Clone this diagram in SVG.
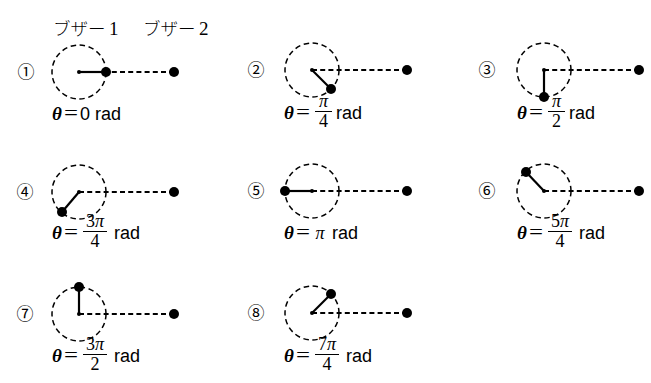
<svg xmlns="http://www.w3.org/2000/svg" width="651" height="383" viewBox="0 0 651 383">
<defs>
<style>
.circ{fill:none;stroke:#000;stroke-width:1.5;stroke-dasharray:5.5 3.6}
.dash{stroke:#000;stroke-width:1.8;stroke-dasharray:5 3.2;fill:none}
.arm{stroke:#000;stroke-width:2.2;fill:none}
.big{fill:#000}
.ctr{fill:#000}
.num{font-family:"Liberation Serif","DejaVu Serif","Noto Sans CJK JP",serif;font-size:17px;text-anchor:middle}
.th{font-family:"Liberation Serif",serif;font-style:italic;font-weight:bold;font-size:19px}
.eq{font-family:"Liberation Serif",serif;font-size:20px}
.sans{font-family:"Liberation Sans",Arial,sans-serif;font-size:18px}
.fr{font-family:"Liberation Serif",serif;font-size:18px;text-anchor:middle}
.pi{font-style:italic}
.fl{stroke:#000;stroke-width:1}
.kana{font-family:"Noto Sans CJK JP",sans-serif;font-size:17.5px;font-weight:300}
.dig{font-family:"Liberation Serif",serif;font-size:19px}
</style>
</defs>

<g id="header">
<text class="kana" x="53" y="35">ブザー<tspan class="dig" x="109">1</tspan></text>
<text class="kana" x="143" y="35">ブザー<tspan class="dig" x="199">2</tspan></text>
</g>

<g id="panel1">
<text class="num" x="26" y="78">①</text>
<circle class="circ" cx="79" cy="72" r="27"/>
<line class="dash" x1="79" y1="72" x2="174" y2="72"/>
<line class="arm" x1="79" y1="72" x2="106" y2="72"/>
<circle class="ctr" cx="79" cy="72" r="2"/>
<circle class="big" cx="106" cy="72" r="5"/>
<circle class="big" cx="174" cy="72" r="5"/>
<text y="120"><tspan class="th" x="52">θ</tspan><tspan class="eq" x="64" textLength="14" lengthAdjust="spacingAndGlyphs">=</tspan><tspan class="sans" x="80">0</tspan><tspan class="sans" x="95">rad</tspan></text>
</g>

<g id="panel2">
<text class="num" x="256" y="76">②</text>
<circle class="circ" cx="312" cy="70" r="27"/>
<line class="dash" x1="312" y1="70" x2="407" y2="70"/>
<line class="arm" x1="312" y1="70" x2="331" y2="89"/>
<circle class="ctr" cx="312" cy="70" r="2"/>
<circle class="big" cx="331" cy="89" r="5"/>
<circle class="big" cx="407" cy="70" r="5"/>
<text y="119"><tspan class="th" x="284">θ</tspan><tspan class="eq" x="296" textLength="14" lengthAdjust="spacingAndGlyphs">=</tspan><tspan class="sans" x="336">rad</tspan></text>
<line class="fl" x1="315" y1="111.5" x2="332" y2="111.5"/>
<text class="fr pi" x="323.5" y="107">π</text>
<text class="fr" x="323.5" y="127">4</text>
</g>

<g id="panel3">
<text class="num" x="487" y="76">③</text>
<circle class="circ" cx="544" cy="70" r="27"/>
<line class="dash" x1="544" y1="70" x2="639" y2="70"/>
<line class="arm" x1="544" y1="70" x2="544" y2="97"/>
<circle class="ctr" cx="544" cy="70" r="2"/>
<circle class="big" cx="544" cy="97" r="5"/>
<circle class="big" cx="639" cy="70" r="5"/>
<text y="119"><tspan class="th" x="517">θ</tspan><tspan class="eq" x="529" textLength="14" lengthAdjust="spacingAndGlyphs">=</tspan><tspan class="sans" x="569">rad</tspan></text>
<line class="fl" x1="548" y1="111.5" x2="565" y2="111.5"/>
<text class="fr pi" x="556.5" y="107">π</text>
<text class="fr" x="556.5" y="127">2</text>
</g>

<g id="panel4">
<text class="num" x="25" y="198">④</text>
<circle class="circ" cx="79" cy="192" r="27"/>
<line class="dash" x1="79" y1="192" x2="174" y2="192"/>
<line class="arm" x1="79" y1="192" x2="62" y2="212"/>
<circle class="ctr" cx="79" cy="192" r="2"/>
<circle class="big" cx="62" cy="212" r="5"/>
<circle class="big" cx="174" cy="192" r="5"/>
<text y="239"><tspan class="th" x="52">θ</tspan><tspan class="eq" x="64" textLength="14" lengthAdjust="spacingAndGlyphs">=</tspan><tspan class="sans" x="114">rad</tspan></text>
<line class="fl" x1="83" y1="231.5" x2="107" y2="231.5"/>
<text class="fr" x="95" y="227">3<tspan class="pi">π</tspan></text>
<text class="fr" x="95" y="247">4</text>
</g>

<g id="panel5">
<text class="num" x="256" y="197">⑤</text>
<circle class="circ" cx="312" cy="191" r="27"/>
<line class="dash" x1="312" y1="191" x2="407" y2="191"/>
<line class="arm" x1="312" y1="191" x2="285" y2="191"/>
<circle class="ctr" cx="312" cy="191" r="2"/>
<circle class="big" cx="285" cy="191" r="5"/>
<circle class="big" cx="407" cy="191" r="5"/>
<text y="239"><tspan class="th" x="284">θ</tspan><tspan class="eq" x="296" textLength="14" lengthAdjust="spacingAndGlyphs">=</tspan><tspan class="fr pi" x="320">π</tspan><tspan class="sans" x="332">rad</tspan></text>
</g>

<g id="panel6">
<text class="num" x="487" y="197">⑥</text>
<circle class="circ" cx="544" cy="191" r="27"/>
<line class="dash" x1="544" y1="191" x2="639" y2="191"/>
<line class="arm" x1="544" y1="191" x2="526" y2="172"/>
<circle class="ctr" cx="544" cy="191" r="2"/>
<circle class="big" cx="526" cy="172" r="5"/>
<circle class="big" cx="639" cy="191" r="5"/>
<text y="239"><tspan class="th" x="517">θ</tspan><tspan class="eq" x="529" textLength="14" lengthAdjust="spacingAndGlyphs">=</tspan><tspan class="sans" x="579">rad</tspan></text>
<line class="fl" x1="548" y1="231.5" x2="572" y2="231.5"/>
<text class="fr" x="560" y="227">5<tspan class="pi">π</tspan></text>
<text class="fr" x="560" y="247">4</text>
</g>

<g id="panel7">
<text class="num" x="25" y="320">⑦</text>
<circle class="circ" cx="79" cy="314" r="27"/>
<line class="dash" x1="79" y1="314" x2="174" y2="314"/>
<line class="arm" x1="79" y1="314" x2="79" y2="287"/>
<circle class="ctr" cx="79" cy="314" r="2"/>
<circle class="big" cx="79" cy="287" r="5"/>
<circle class="big" cx="174" cy="314" r="5"/>
<text y="362"><tspan class="th" x="52">θ</tspan><tspan class="eq" x="64" textLength="14" lengthAdjust="spacingAndGlyphs">=</tspan><tspan class="sans" x="114">rad</tspan></text>
<line class="fl" x1="83" y1="354.5" x2="107" y2="354.5"/>
<text class="fr" x="95" y="350">3<tspan class="pi">π</tspan></text>
<text class="fr" x="95" y="370">2</text>
</g>

<g id="panel8">
<text class="num" x="256" y="319">⑧</text>
<circle class="circ" cx="312" cy="313" r="27"/>
<line class="dash" x1="312" y1="313" x2="407" y2="313"/>
<line class="arm" x1="312" y1="313" x2="331" y2="294"/>
<circle class="ctr" cx="312" cy="313" r="2"/>
<circle class="big" cx="331" cy="294" r="5"/>
<circle class="big" cx="407" cy="313" r="5"/>
<text y="362"><tspan class="th" x="284">θ</tspan><tspan class="eq" x="296" textLength="14" lengthAdjust="spacingAndGlyphs">=</tspan><tspan class="sans" x="346">rad</tspan></text>
<line class="fl" x1="315" y1="354.5" x2="339" y2="354.5"/>
<text class="fr" x="327" y="350">7<tspan class="pi">π</tspan></text>
<text class="fr" x="327" y="370">4</text>
</g>
</svg>
